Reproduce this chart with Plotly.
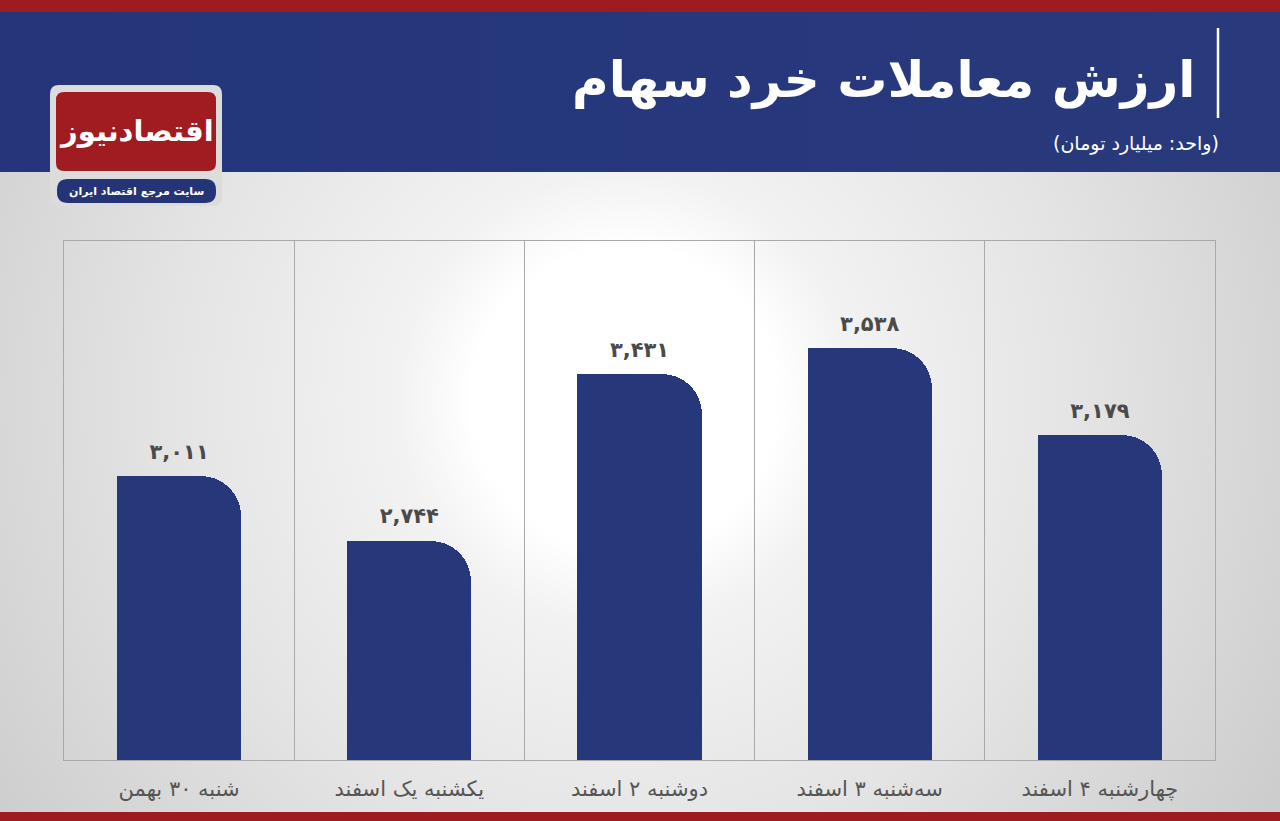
import base64
import plotly.graph_objects as go

categories = ["شنبه ۳۰ بهمن", "یکشنبه یک اسفند", "دوشنبه ۲ اسفند", "سه‌شنبه ۳ اسفند", "چهارشنبه ۴ اسفند"]
values = [3011, 2744, 3431, 3538, 3179]
title_text = "ارزش معاملات خرد سهام"
subtitle_text = "\u200f(واحد: میلیارد تومان)\u200f"
logo_text = "اقتصادنیوز"
logo_sub = "سایت مرجع اقتصاد ایران"

FA = str.maketrans("0123456789", "۰۱۲۳۴۵۶۷۸۹")
value_labels = [f"{v:,}".translate(FA) for v in values]

W, H = 1280, 821
L, R, T, B = 64, 65, 241, 61
PW, PH = W - L - R, H - T - B
NAVY = "#26377a"
RED = "#9e1b20"
FONT = "DejaVu Sans"


def px(x):
    return (x - L) / PW


def py(y):
    return (H - B - y) / PH


def rrect(x0, y0, x1, y1, r):
    X0, X1 = px(x0), px(x1)
    Y0, Y1 = py(y0), py(y1)
    rx, ry = r / PW, r / PH
    return (f"M {X0+rx},{Y0} L {X1-rx},{Y0} Q {X1},{Y0} {X1},{Y0-ry} "
            f"L {X1},{Y1+ry} Q {X1},{Y1} {X1-rx},{Y1} L {X0+rx},{Y1} "
            f"Q {X0},{Y1} {X0},{Y1+ry} L {X0},{Y0-ry} Q {X0},{Y0} {X0+rx},{Y0} Z")


svg = f'''<svg xmlns="http://www.w3.org/2000/svg" width="{W}" height="{H}" viewBox="0 0 {W} {H}">
<defs>
<radialGradient id="g" cx="625" cy="400" r="760" gradientUnits="userSpaceOnUse">
<stop offset="0" stop-color="#ffffff"/>
<stop offset="0.2" stop-color="#ffffff"/>
<stop offset="0.3" stop-color="#f2f2f2"/>
<stop offset="0.6" stop-color="#e4e4e4"/>
<stop offset="1" stop-color="#cdcdcd"/>
</radialGradient>
<linearGradient id="n" x1="0" y1="0" x2="1" y2="0">
<stop offset="0" stop-color="#24357a"/>
<stop offset="1" stop-color="#283a7c"/>
</linearGradient>
</defs>
<rect width="{W}" height="{H}" fill="url(#g)"/>
<rect y="0" width="{W}" height="172" fill="url(#n)"/>
<rect y="0" width="{W}" height="12" fill="{RED}"/>
<rect y="812" width="{W}" height="9" fill="{RED}"/>
</svg>'''
bg_src = "data:image/svg+xml;base64," + base64.b64encode(svg.encode()).decode()

fig = go.Figure()
fig.add_trace(go.Bar(
    x=categories, y=values, width=0.54,
    marker=dict(color=NAVY, cornerradius=40, line=dict(width=0)), hoverinfo="skip",
))
fig.add_trace(go.Bar(
    x=categories, y=values, width=0.3, offset=-0.27,
    marker=dict(color=NAVY, line=dict(width=0)), hoverinfo="skip",
))
fig.add_trace(go.Scatter(
    x=categories, y=values, mode="markers+text", text=value_labels, textposition="top center",
    marker=dict(size=18, opacity=0), cliponaxis=False, hoverinfo="skip",
    textfont=dict(family=FONT, size=21, color="#4a4a4a", weight="bold"),
))

shapes = [
    dict(type="path", xref="paper", yref="paper", path=rrect(50, 85, 222, 206, 9),
         fillcolor="#dcdcdc", line=dict(width=0), layer="above"),
    dict(type="path", xref="paper", yref="paper", path=rrect(56, 92, 216, 171, 8),
         fillcolor="#a01c21", line=dict(width=0), layer="above"),
    dict(type="path", xref="paper", yref="paper", path=rrect(57, 179, 216, 203, 11),
         fillcolor="#243476", line=dict(width=0), layer="above"),
    dict(type="line", xref="paper", yref="paper", x0=px(1218), x1=px(1218), y0=py(28), y1=py(118),
         line=dict(color="white", width=2.5)),
]

annotations = [
    dict(text=f"<b>{title_text}</b>", xref="paper", yref="paper", x=px(1197), y=py(80),
         xanchor="right", yanchor="middle", showarrow=False,
         font=dict(family=FONT, size=50, color="white")),
    dict(text=subtitle_text, xref="paper", yref="paper", x=px(1221), y=py(143),
         xanchor="right", yanchor="middle", showarrow=False,
         font=dict(family=FONT, size=19, color="white")),
    dict(text=f"<b>{logo_text}</b>", xref="paper", yref="paper", x=px(136), y=py(131),
         xanchor="center", yanchor="middle", showarrow=False,
         font=dict(family=FONT, size=29, color="white")),
    dict(text=f"<b>{logo_sub}</b>", xref="paper", yref="paper", x=px(136), y=py(191),
         xanchor="center", yanchor="middle", showarrow=False,
         font=dict(family=FONT, size=11, color="white")),
]

fig.update_layout(
    width=W, height=H, margin=dict(l=L, r=R, t=T, b=B),
    paper_bgcolor="#d8d8d8", plot_bgcolor="rgba(0,0,0,0)",
    barmode="overlay", showlegend=False, bargap=0,
    images=[dict(source=bg_src, xref="paper", yref="paper", x=-L / PW, y=1 + T / PH,
                 sizex=W / PW, sizey=H / PH, xanchor="left", yanchor="top",
                 sizing="stretch", layer="below")],
    shapes=shapes, annotations=annotations,
    xaxis=dict(type="category", tickson="boundaries", showgrid=True, gridcolor="#a9a9a9", gridwidth=1,
               showline=True, linecolor="#a9a9a9", linewidth=1, mirror=True,
               ticks="", ticklabelstandoff=10,
               tickfont=dict(family=FONT, size=21, color="#555555"), fixedrange=True),
    yaxis=dict(range=[1840, 3980], showgrid=False, zeroline=False, showticklabels=False,
               showline=True, linecolor="#a9a9a9", linewidth=1, mirror=True, fixedrange=True),
)

fig.write_html("out.html", config={"displayModeBar": False},
               post_script="document.body.style.margin='0';document.body.style.overflow='hidden';")
